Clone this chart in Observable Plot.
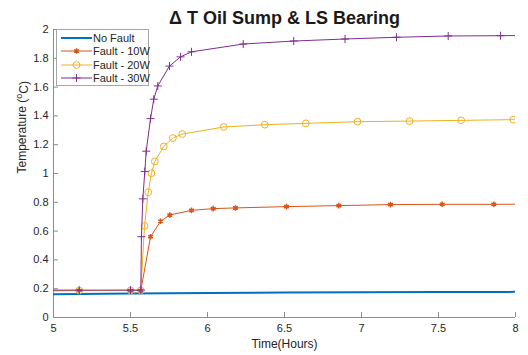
<!DOCTYPE html>
<html><head><meta charset="utf-8">
<script src="https://cdn.jsdelivr.net/npm/d3@7"></script>
<script src="https://cdn.jsdelivr.net/npm/@observablehq/plot@0.6"></script>
<style>
body{margin:0;background:#fff;font-family:"Liberation Sans",Arial,sans-serif}
#wrap{position:relative;width:528px;height:355px}
#legend{position:absolute;left:56px;top:29px;width:93px;height:57px;border:1px solid #a6a6a6;background:#fff;font-size:11px;color:#262626;box-sizing:border-box;padding-top:1px;white-space:nowrap}
.row{height:13.5px;display:flex;align-items:center}
.row svg{margin-left:4px;margin-right:1px;flex:none}
</style></head><body><div id="wrap"><div id="legend"></div></div>
<script>
const titleText = "\u0394 T Oil Sump & LS Bearing";
const xLabel = "Time(Hours)";
const yLabel = "Temperature (oC)";
const seriesNames = ["No Fault", "Fault - 10W", "Fault - 20W", "Fault - 30W"];
const seriesColors = ["#0072BD", "#D95319", "#EDB120", "#7E2F8E"];
const seriesSymbols = [null, "asterisk", "circle", "plus"];
const seriesWidths = [2, 1, 1, 1];

const noFaultHours = [4.834, 5.0, 5.5, 6.0, 6.5, 7.0, 7.5, 8.0, 8.24];
const noFaultTemp  = [0.160, 0.162, 0.167, 0.170, 0.173, 0.175, 0.177, 0.178, 0.178];

const fault10Hours = [4.834, 5.167, 5.5, 5.567, 5.630, 5.695, 5.755, 5.896, 6.037, 6.182, 6.513, 6.853, 7.188, 7.524, 7.859, 8.19];
const fault10Temp  = [0.185, 0.187, 0.188, 0.188, 0.561, 0.668, 0.712, 0.744, 0.756, 0.761, 0.770, 0.777, 0.784, 0.786, 0.786, 0.788];

const fault20Hours = [4.834, 5.167, 5.5, 5.567, 5.591, 5.615, 5.636, 5.658, 5.716, 5.775, 5.836, 6.106, 6.372, 6.638, 6.974, 7.312, 7.647, 7.985, 8.32];
const fault20Temp  = [0.185, 0.187, 0.188, 0.188, 0.636, 0.870, 1.002, 1.084, 1.188, 1.246, 1.274, 1.323, 1.339, 1.348, 1.360, 1.364, 1.369, 1.374, 1.376];

const fault30Hours = [4.834, 5.167, 5.5, 5.567, 5.571, 5.580, 5.593, 5.602, 5.630, 5.651, 5.677, 5.753, 5.825, 5.896, 6.232, 6.560, 6.893, 7.227, 7.563, 7.903, 8.24];
const fault30Temp  = [0.190, 0.190, 0.190, 0.190, 0.561, 0.824, 1.014, 1.155, 1.381, 1.516, 1.608, 1.746, 1.810, 1.845, 1.899, 1.920, 1.934, 1.946, 1.955, 1.957, 1.960];

const xTicks = [5, 5.5, 6, 6.5, 7, 7.5, 8];
const yTicks = [0, 0.2, 0.4, 0.6, 0.8, 1, 1.2, 1.4, 1.6, 1.8, 2];

const hoursList = [noFaultHours, fault10Hours, fault20Hours, fault30Hours];
const tempList = [noFaultTemp, fault10Temp, fault20Temp, fault30Temp];
const series = seriesNames.map((name, i) => hoursList[i].map((h, j) => ({name, h, t: tempList[i][j]})));
const symR = {asterisk: 2.6, circle: 3.4, plus: 2.7};
const symW = {asterisk: 1.5, circle: 1, plus: 1};

const marks = [
  Plot.ruleX([5], {stroke: "#8c8c8c"}),
  Plot.ruleY([0], {stroke: "#8c8c8c"}),
  Plot.axisX(xTicks, {tickSize: -5, tickFormat: () => "", stroke: "#8c8c8c", label: null}),
  Plot.axisX(xTicks, {tickSize: 0, tickPadding: 7, tickFormat: d => String(d), fill: "#262626", fontSize: 11, label: null}),
  Plot.axisY(yTicks, {tickSize: -5, tickFormat: () => "", stroke: "#8c8c8c", label: null}),
  Plot.axisY(yTicks, {tickSize: 0, tickPadding: 5, tickFormat: d => String(d), fill: "#262626", fontSize: 11, label: null}),
  Plot.text([xLabel], {frameAnchor: "bottom", dy: 30, fontSize: 12, fill: "#262626"}),
  Plot.text([yLabel], {frameAnchor: "left", dx: -31, rotate: -90, fontSize: 12, fill: "#262626", className: "ylab"}),
  Plot.text([titleText], {frameAnchor: "top", dy: -18, fontSize: 18, fontWeight: "bold", fill: "#1a1a1a"})
];
series.forEach((s, i) => {
  marks.push(Plot.line(s, {x: "h", y: "t", stroke: seriesColors[i], strokeWidth: seriesWidths[i], clip: true}));
  const sy = seriesSymbols[i];
  if (sy) {
    marks.push(Plot.dot(s, {x: "h", y: "t", symbol: () => sy, r: symR[sy],
      stroke: seriesColors[i], fill: "none", strokeWidth: symW[sy], clip: true}));
  }
});

const chart = Plot.plot({
  width: 528, height: 355,
  marginLeft: 53, marginRight: 13, marginTop: 29, marginBottom: 38,
  style: {fontFamily: "'Liberation Sans', Arial, sans-serif", fontSize: "11px", background: "#fff", color: "#262626"},
  x: {domain: [5, 8]},
  y: {domain: [0, 2]},
  symbol: {type: "identity"},
  marks
});
document.getElementById("wrap").prepend(chart);

// superscript in y label
d3.select(chart).selectAll(".ylab text").each(function() {
  const t = d3.select(this);
  t.text(null);
  t.append("tspan").text("Temperature (");
  t.append("tspan").attr("dy", "-0.45em").attr("font-size", "9px").text("o");
  t.append("tspan").attr("dy", "0.45em").text("C)");
});

// legend
const legend = d3.select("#legend");
seriesNames.forEach((name, i) => {
  const row = legend.append("div").attr("class", "row");
  const svg = row.append("svg").attr("width", 31).attr("height", 10);
  svg.append("line").attr("x1", 0).attr("x2", 31).attr("y1", 5).attr("y2", 5)
    .attr("stroke", seriesColors[i]).attr("stroke-width", seriesWidths[i]);
  const sy = seriesSymbols[i];
  if (sy) {
    const sym = {asterisk: d3.symbolAsterisk, circle: d3.symbolCircle, plus: d3.symbolPlus}[sy];
    svg.append("path").attr("d", d3.symbol(sym, Math.PI * symR[sy] * symR[sy])()).attr("transform", "translate(15.5,5)")
      .attr("fill", "none").attr("stroke", seriesColors[i]).attr("stroke-width", symW[sy]);
  }
  row.append("span").text(name);
});
</script>
</body></html>
